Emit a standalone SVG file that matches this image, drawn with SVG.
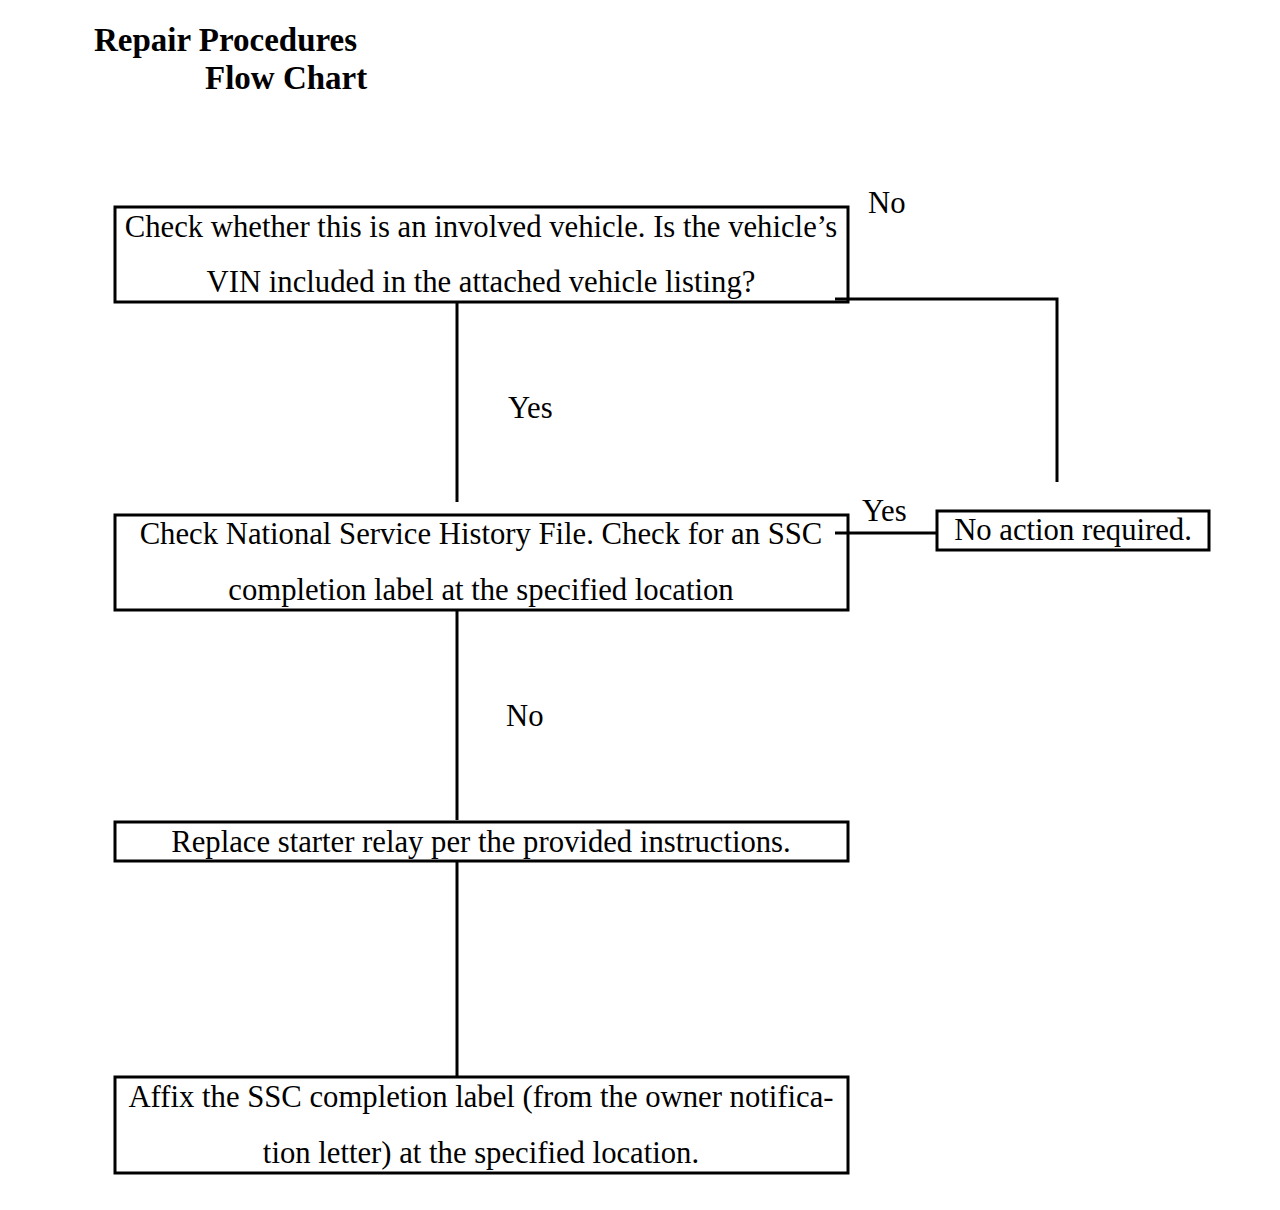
<svg xmlns="http://www.w3.org/2000/svg" width="1280" height="1210" viewBox="0 0 1280 1210">
<style>
text{font-family:"Liberation Serif","Times New Roman",serif;fill:#000}
.t{font-size:30.7px}
.h{font-size:33px;font-weight:bold}
.c{text-anchor:middle}
rect{fill:#fff;stroke:#000;stroke-width:3}
.ln{stroke:#000;stroke-width:3;fill:none}
</style>
<rect x="0" y="0" width="1280" height="1210" style="fill:#fff;stroke:none"/>
<g id="title">
<text class="h" x="94" y="51">Repair Procedures</text>
<text class="h" x="205" y="89">Flow Chart</text>
</g>
<g id="n1">
<rect x="115" y="207" width="733" height="95"/>
<text class="t c" x="481" y="237">Check whether this is an involved vehicle. Is the vehicle’s</text>
<text class="t c" x="481" y="292">VIN included in the attached vehicle listing?</text>
</g>
<g id="n2">
<rect x="115" y="515" width="733" height="95"/>
<text class="t c" x="481" y="544">Check National Service History File. Check for an SSC</text>
<text class="t c" x="481" y="600">completion label at the specified location</text>
</g>
<g id="n3">
<rect x="937" y="511" width="272" height="39"/>
<text class="t c" x="1073" y="540">No action required.</text>
</g>
<g id="n4">
<rect x="115" y="822" width="733" height="39"/>
<text class="t c" x="481" y="852">Replace starter relay per the provided instructions.</text>
</g>
<g id="n5">
<rect x="115" y="1077" width="733" height="96"/>
<text class="t c" x="481" y="1107">Affix the SSC completion label (from the owner notifica-</text>
<text class="t c" x="481" y="1163">tion letter) at the specified location.</text>
</g>
<g id="connectors">
<polyline class="ln" points="835,299 1057,299 1057,482"/>
<line class="ln" x1="457" y1="302" x2="457" y2="502"/>
<line class="ln" x1="835" y1="533" x2="937" y2="533"/>
<line class="ln" x1="457" y1="610" x2="457" y2="820"/>
<line class="ln" x1="457" y1="861" x2="457" y2="1077"/>
<text class="t" x="868" y="213">No</text>
<text class="t" x="508" y="418">Yes</text>
<text class="t" x="862" y="521">Yes</text>
<text class="t" x="506" y="726">No</text>
</g>
</svg>
